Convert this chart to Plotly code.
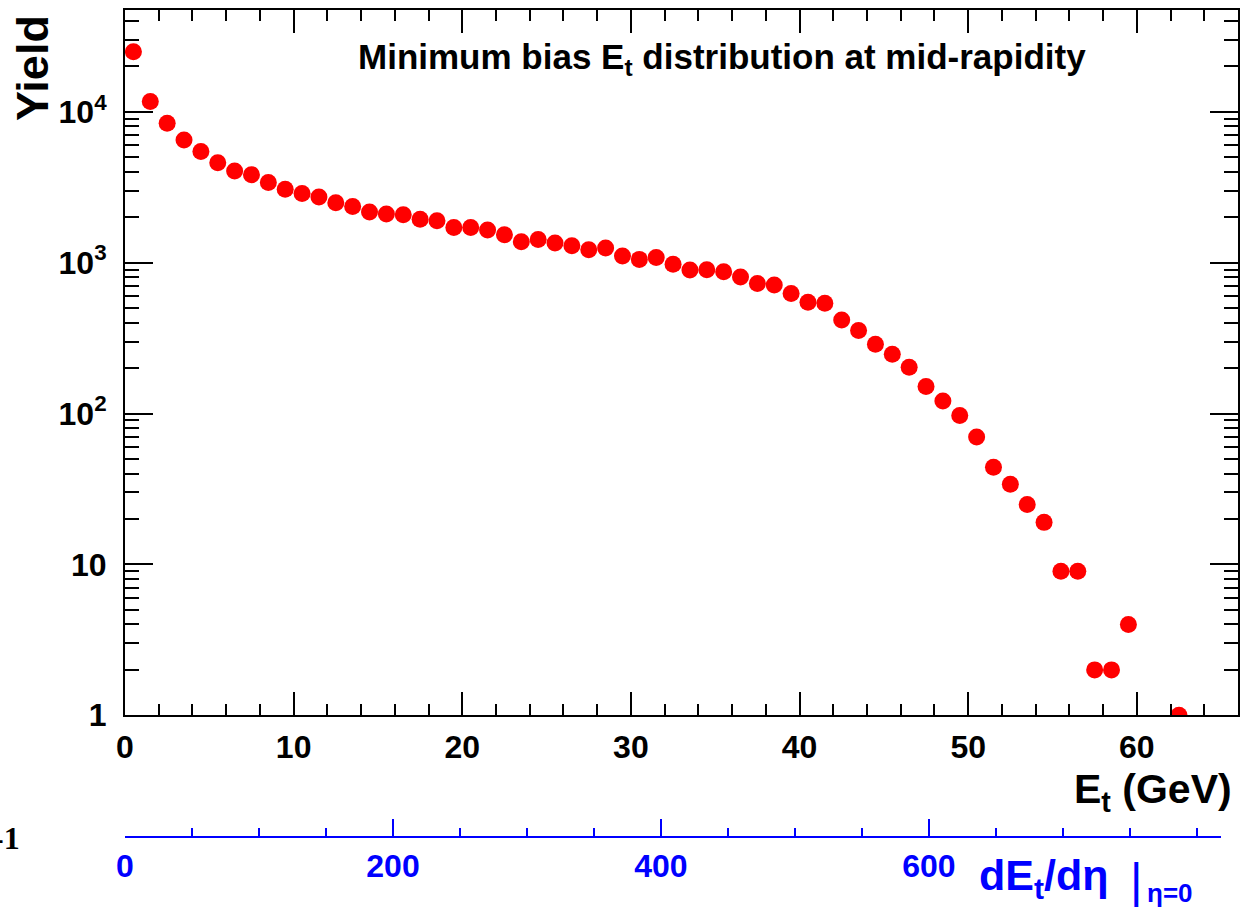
import plotly.graph_objects as go

# ---- data ----
et_bins = [0.5, 1.5, 2.5, 3.5, 4.5, 5.5, 6.5, 7.5, 8.5, 9.5,
           10.5, 11.5, 12.5, 13.5, 14.5, 15.5, 16.5, 17.5, 18.5, 19.5,
           20.5, 21.5, 22.5, 23.5, 24.5, 25.5, 26.5, 27.5, 28.5, 29.5,
           30.5, 31.5, 32.5, 33.5, 34.5, 35.5, 36.5, 37.5, 38.5, 39.5,
           40.5, 41.5, 42.5, 43.5, 44.5, 45.5, 46.5, 47.5, 48.5, 49.5,
           50.5, 51.5, 52.5, 53.5, 54.5, 55.5, 56.5, 57.5, 58.5, 59.5,
           62.5]
yield_vals = [25000, 11700, 8400, 6500, 5450, 4600, 4060, 3830, 3400, 3070,
              2880, 2730, 2500, 2360, 2170, 2100, 2080, 1940, 1900, 1710,
              1710, 1645, 1530, 1375, 1425, 1350, 1296, 1220, 1250, 1107,
              1052, 1084, 975, 894, 899, 872, 805, 729, 711, 626,
              546, 538, 417, 355, 288, 247, 203, 151, 121, 97,
              70, 44, 34, 25, 19, 9, 9, 2, 2, 4,
              1]

x_major_ticks = [0, 10, 20, 30, 40, 50, 60]
y_major_ticks = [1, 10, 100, 1000, 10000]
y_major_text = ["1", "10", "10<sup>2</sup>", "10<sup>3</sup>", "10<sup>4</sup>"]
y_minor_ticks = [m * 10 ** d for d in range(5) for m in range(2, 10)]
top_ticks = [0, 200, 400, 600]

FONT = "Liberation Sans"
BLUE = "#0000ff"

# pixel helpers for annotation placement (plot area: x 125..1238, y 8..836)
def px_x(p):
    return (p - 125) / 1113.0

def px_y(p):
    return (836 - p) / 828.0

fig = go.Figure()
fig.add_trace(go.Scatter(
    x=et_bins, y=yield_vals, mode="markers",
    marker=dict(color="#ff0000", size=17, line=dict(width=0)),
    xaxis="x", yaxis="y", showlegend=False,
))
# invisible trace carrying the secondary (blue) dEt/deta axis on its own thin subplot
fig.add_trace(go.Scatter(
    x=[0], y=[0], mode="markers", marker=dict(opacity=0),
    xaxis="x2", yaxis="y2", showlegend=False, hoverinfo="skip",
))

fig.update_layout(
    width=1248, height=911,
    margin=dict(l=125, r=10, t=8, b=75),
    paper_bgcolor="white", plot_bgcolor="rgba(0,0,0,0)",
    xaxis=dict(
        domain=[0, 1], range=[0, 66], anchor="y",
        showline=True, linecolor="black", linewidth=2, mirror="ticks",
        ticks="inside", ticklen=23, tickwidth=2, tickcolor="black",
        tickmode="array", tickvals=x_major_ticks,
        minor=dict(ticks="inside", ticklen=11, tickwidth=2, tickcolor="black", dtick=2),
        tickfont=dict(family=FONT, size=32, color="black", weight="bold"),
        ticklabelstandoff=2,
        showgrid=False, zeroline=False,
    ),
    yaxis=dict(
        type="log", domain=[121 / 828, 1], range=[0, 4.675], anchor="x",
        showline=True, linecolor="black", linewidth=2, mirror="ticks",
        ticks="inside", ticklen=28, tickwidth=2, tickcolor="black",
        tickmode="array", tickvals=y_major_ticks, ticktext=y_major_text,
        minor=dict(ticks="inside", ticklen=14, tickwidth=2, tickcolor="black",
                   tickmode="array", tickvals=y_minor_ticks),
        tickfont=dict(family=FONT, size=32, color="black", weight="bold"),
        ticklabelstandoff=10,
        showgrid=False, zeroline=False,
    ),
    xaxis2=dict(
        domain=[0, 1096 / 1113], range=[0, 818], anchor="y2",
        showline=True, linecolor=BLUE, linewidth=2,
        ticks="inside", ticklen=17, tickwidth=2, tickcolor=BLUE,
        tickmode="array", tickvals=top_ticks,
        minor=dict(ticks="inside", ticklen=8, tickwidth=2, tickcolor=BLUE, dtick=50),
        tickfont=dict(family=FONT, size=32, color=BLUE, weight="bold"),
        ticklabelstandoff=1,
        showgrid=False, zeroline=False,
    ),
    yaxis2=dict(
        domain=[0, 0.001], range=[0, 1], anchor="x2", visible=False,
        showgrid=False, zeroline=False,
    ),
    annotations=[
        dict(text="Minimum bias E<sub>t</sub> distribution at mid-rapidity",
             x=px_x(722), y=px_y(57), xref="paper", yref="paper",
             xanchor="center", yanchor="middle", showarrow=False,
             font=dict(family=FONT, size=35, color="black", weight="bold")),
        dict(text="Yield", x=px_x(33), y=px_y(11), xref="paper", yref="paper",
             xanchor="center", yanchor="top", textangle=-90, showarrow=False,
             font=dict(family=FONT, size=45, color="black", weight="bold")),
        dict(text="E<sub>t</sub> (GeV)", x=px_x(1234), y=px_y(792),
             xref="paper", yref="paper", xanchor="right", yanchor="middle",
             showarrow=False,
             font=dict(family=FONT, size=41, color="black", weight="bold")),
        dict(text="-1", x=px_x(22), y=px_y(838), xref="paper", yref="paper",
             xanchor="right", yanchor="middle", showarrow=False,
             font=dict(family="Liberation Serif", size=32, color="black", weight="bold")),
        dict(text="dE<sub>t</sub>/dη", x=px_x(1110), y=px_y(878),
             xref="paper", yref="paper", xanchor="right", yanchor="middle",
             showarrow=False,
             font=dict(family=FONT, size=43, color=BLUE, weight="bold")),
        dict(text="|", x=px_x(1136), y=px_y(881), xref="paper", yref="paper",
             xanchor="center", yanchor="middle", showarrow=False,
             font=dict(family=FONT, size=48, color=BLUE)),
        dict(text="η=0", x=px_x(1145), y=px_y(893), xref="paper", yref="paper",
             xanchor="left", yanchor="middle", showarrow=False,
             font=dict(family=FONT, size=26, color=BLUE, weight="bold")),
    ],
)

fig.write_html("out.html")
